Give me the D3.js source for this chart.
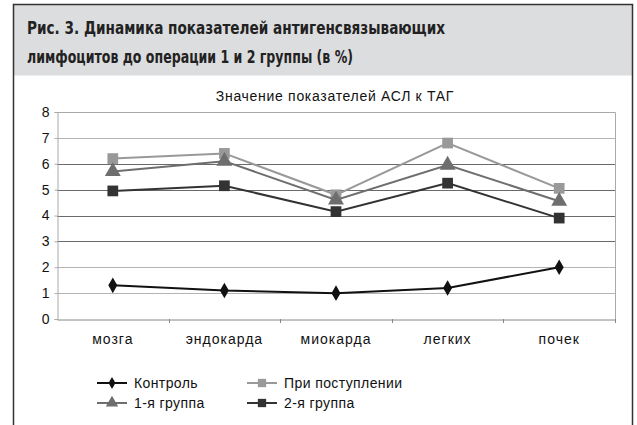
<!DOCTYPE html>
<html>
<head>
<meta charset="utf-8">
<script src="https://cdn.jsdelivr.net/npm/d3@7"></script>
<style>
  body { margin: 0; background: #fff; }
  svg { display: block; }
</style>
</head>
<body>
<div id="chart"></div>
<script>
// data
const categories = ["мозга", "эндокарда", "миокарда", "легких", "почек"];
const control = [1.3, 1.1, 1.0, 1.2, 2.0];
const admission = [6.2, 6.4, 4.8, 6.8, 5.05];
const group1 = [5.7, 6.1, 4.6, 5.95, 4.55];
const group2 = [4.95, 5.15, 4.15, 5.25, 3.9];
const yTicks = [0, 1, 2, 3, 4, 5, 6, 7, 8];

const series = [
  {name: "Контроль", values: control, color: "#111", marker: "diamond"},
  {name: "При поступлении", values: admission, color: "#999", marker: "square"},
  {name: "1-я группа", values: group1, color: "#6e6e6e", marker: "triangle"},
  {name: "2-я группа", values: group2, color: "#333", marker: "square"}
];

const W = 637, H = 425;
const plot = {left: 57, right: 615, top: 112, bottom: 319};
const font = "Liberation Sans, Arial, sans-serif";

const svg = d3.select("#chart").append("svg")
  .attr("width", W).attr("height", H);

// frame + title band
svg.append("rect")
  .attr("x", 13.5).attr("y", 4.5).attr("width", 619).attr("height", 71)
  .attr("fill", "#dcdddf");
svg.append("path")
  .attr("d", "M13.5,430 V4.5 H632.5 V430")
  .attr("fill", "none").attr("stroke", "#333").attr("stroke-width", 1.5);

const title = svg.append("text")
  .attr("font-family", "DejaVu Sans Condensed, DejaVu Sans")
  .attr("font-weight", "bold").attr("font-size", 18.5).attr("fill", "#222");
title.append("tspan").attr("x", 27).attr("y", 34)
  .attr("textLength", 418).attr("lengthAdjust", "spacingAndGlyphs")
  .text("Рис. 3. Динамика показателей антигенсвязывающих");
title.append("tspan").attr("x", 27).attr("y", 63)
  .attr("textLength", 326).attr("lengthAdjust", "spacingAndGlyphs")
  .text("лимфоцитов до операции 1 и 2 группы (в %)");

svg.append("text")
  .attr("x", 335).attr("y", 101).attr("text-anchor", "middle")
  .attr("font-family", font).attr("font-size", 14).attr("letter-spacing", 0.7)
  .attr("fill", "#111").text("Значение показателей АСЛ к ТАГ");

const x = d3.scaleBand().domain(categories).range([plot.left, plot.right]);
const y = d3.scaleLinear().domain([0, 8]).range([plot.bottom, plot.top]);

// gridlines (lower and top ones print lighter in the source)
svg.append("g").selectAll("line")
  .data(yTicks.filter(d => d > 0 && d < 8))
  .join("line")
  .attr("x1", plot.left).attr("x2", plot.right)
  .attr("y1", d => Math.round(y(d)) + 0.5).attr("y2", d => Math.round(y(d)) + 0.5)
  .attr("stroke", d => (d <= 2 || d === 7) ? "#b4b4b4" : "#6a6a6a")
  .attr("stroke-width", 1);

// plot border (top/right)
svg.append("path")
  .attr("d", `M${plot.left},${plot.top + 0.5} H${plot.right + 0.5} V${plot.bottom}`)
  .attr("fill", "none").attr("stroke", "#aaa");

// y axis
const yAxis = svg.append("g")
  .attr("transform", `translate(${plot.left + 0.5},0)`)
  .call(d3.axisLeft(y).tickValues(yTicks).tickSize(3).tickFormat(d3.format("d")));
yAxis.select(".domain").attr("stroke", "#aaa");
yAxis.selectAll(".tick line").attr("stroke", "#aaa");
yAxis.selectAll("text")
  .attr("font-family", font).attr("font-size", 14)
  .attr("fill", "#111").attr("x", -8);

// x axis
const xAxis = svg.append("g")
  .attr("transform", `translate(0,${plot.bottom + 0.5})`)
  .call(d3.axisBottom(x).tickSize(0).tickPadding(15));
xAxis.select(".domain").attr("stroke", "#888");
xAxis.selectAll("text")
  .attr("font-family", font).attr("font-size", 14).attr("letter-spacing", 1)
  .attr("fill", "#111");
// category boundary ticks
svg.append("g").selectAll("line")
  .data(categories.slice(1).concat([null]))
  .join("line")
  .attr("x1", d => d === null ? plot.right + 0.5 : Math.round(x(d)) + 0.5)
  .attr("x2", d => d === null ? plot.right + 0.5 : Math.round(x(d)) + 0.5)
  .attr("y1", plot.bottom).attr("y2", plot.bottom + 4)
  .attr("stroke", "#888");

function markerPath(type, scale) {
  const k = scale || 1;
  if (type === "diamond") return d3.symbol(d3.symbolDiamond, 70 * k)();
  if (type === "triangle") return d3.symbol(d3.symbolTriangle, 110 * k)();
  return d3.symbol(d3.symbolSquare, 115 * k)();
}

const line = d3.line()
  .x((d, i) => x(categories[i]) + x.bandwidth() / 2)
  .y(d => y(d));

series.forEach(s => {
  svg.append("path")
    .datum(s.values)
    .attr("d", line)
    .attr("fill", "none").attr("stroke", s.color).attr("stroke-width", 2);
  svg.append("g").selectAll("path")
    .data(s.values)
    .join("path")
    .attr("d", markerPath(s.marker))
    .attr("transform", (d, i) => `translate(${x(categories[i]) + x.bandwidth() / 2},${y(d)})`)
    .attr("fill", s.color);
});

// legend
const legendPos = [[97, 383], [247, 383], [97, 403], [247, 403]];
const legend = svg.append("g").selectAll("g")
  .data(series)
  .join("g")
  .attr("transform", (d, i) => `translate(${legendPos[i][0]},${legendPos[i][1]})`);
legend.append("line")
  .attr("x1", 0).attr("x2", 30).attr("y1", 0).attr("y2", 0)
  .attr("stroke", d => d.color).attr("stroke-width", 2);
legend.append("path")
  .attr("d", d => markerPath(d.marker, 0.6))
  .attr("transform", "translate(15,0)")
  .attr("fill", d => d.color);
legend.append("text")
  .attr("x", 37).attr("y", 5)
  .attr("font-family", font).attr("font-size", 14).attr("letter-spacing", 0.4)
  .attr("fill", "#111").text(d => d.name);
</script>
</body>
</html>
